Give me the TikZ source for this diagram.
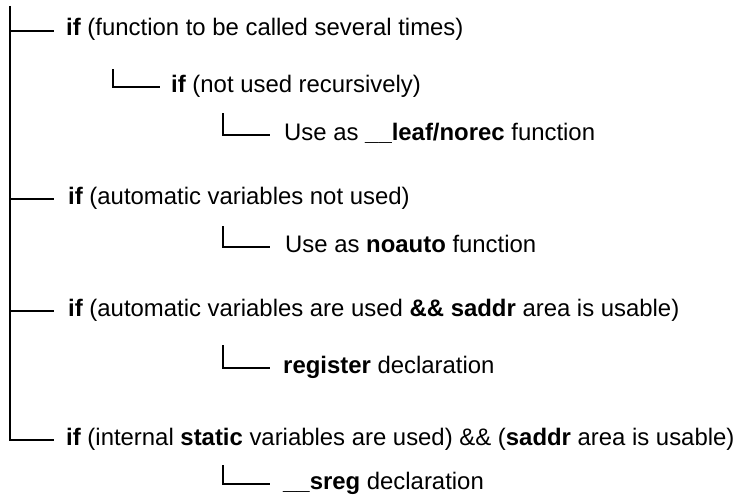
\documentclass[tikz,border=0pt]{standalone}
\usepackage{fontspec}
\setmainfont{Liberation Sans}
\begin{document}
\begin{tikzpicture}[x=1pt,y=-1pt,
  lbl/.style={anchor=base west,inner sep=0pt,font=\fontsize{23.9}{28}\selectfont},
  tree/.style={line width=1.9pt,line join=miter}]
\fill[white] (0,0) rectangle (738,495);
\useasboundingbox (0,0) rectangle (738,495);
% labels (baseline about 5 units below each branch line)
\node[lbl] (a)   at (66,36)  {\textbf{if} (function to be called several times)};
\node[lbl] (a1)  at (171,92) {\textbf{if} (not used recursively)};
\node[lbl] (a11) at (284,140) {Use as \textbf{\_\_leaf/norec} function};
\node[lbl] (b)   at (68,204) {\textbf{if} (automatic variables not used)};
\node[lbl] (b1)  at (285,252) {Use as \textbf{noauto} function};
\node[lbl] (c)   at (68,316) {\textbf{if} (automatic variables are used \textbf{\&\& saddr} area is usable)};
\node[lbl] (c1)  at (283,373) {\textbf{register} declaration};
\node[lbl] (d)   at (66,445) {\textbf{if} (internal \textbf{static} variables are used) \&\& (\textbf{saddr} area is usable)};
\node[lbl] (d1)  at (283,489) {\textbf{\_\_sreg} declaration};
% bracket tops
\coordinate (root)  at (10,6);
\coordinate (a1top) at (113,69);
\coordinate (a11top) at (223,113);
\coordinate (b1top) at (223,226);
\coordinate (c1top) at (223,345);
\coordinate (d1top) at (223,465);
% connectors (each branch line sits 5 units above the label baseline)
\draw[tree] (root) |- ([xshift=-12pt,yshift=5pt]d.base west);
\draw[tree] ([yshift=5pt]a.base west -| root) -- ([xshift=-12pt,yshift=5pt]a.base west);
\draw[tree] ([yshift=5pt]b.base west -| root) -- ([xshift=-14pt,yshift=5pt]b.base west);
\draw[tree] ([yshift=5pt]c.base west -| root) -- ([xshift=-14pt,yshift=5pt]c.base west);
\draw[tree] (a1top) |- ([xshift=-11pt,yshift=5pt]a1.base west);
\draw[tree] (a11top) |- ([xshift=-14pt,yshift=5pt]a11.base west);
\draw[tree] (b1top) |- ([xshift=-15pt,yshift=5pt]b1.base west);
\draw[tree] (c1top) |- ([xshift=-13pt,yshift=5pt]c1.base west);
\draw[tree] (d1top) |- ([xshift=-13pt,yshift=5pt]d1.base west);
\end{tikzpicture}
\end{document}
